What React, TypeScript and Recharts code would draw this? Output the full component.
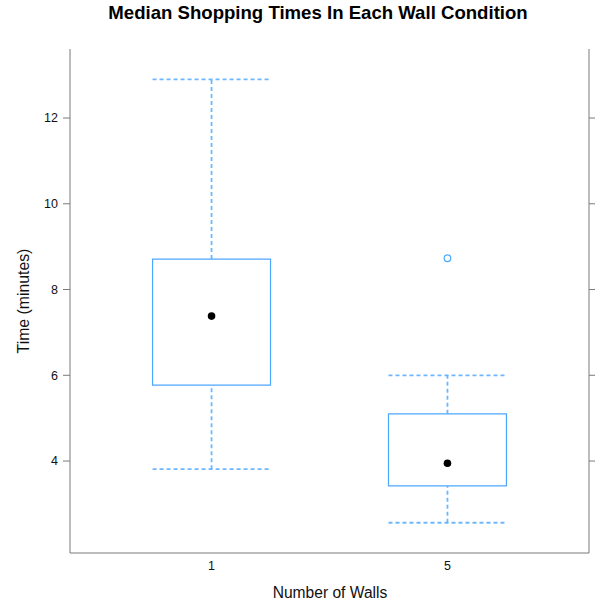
import React from 'react';
import {
  ComposedChart,
  XAxis,
  YAxis,
  Scatter,
  ReferenceArea,
  ReferenceLine,
} from 'recharts';

// ---- data ----
const categories = ['1', '5'];
const positions = [1, 2];
const whiskerLow = [3.81, 2.56];
const q1 = [5.77, 3.42];
const median = [7.38, 3.95];
const q3 = [8.71, 5.1];
const whiskerHigh = [12.9, 6.0];
const outlierGroups = [2];
const outlierValues = [8.73];
const yTicks = [4, 6, 8, 10, 12];

// ---- styling ----
const BLUE = '#4da6ff';
const DASH_BLUE = '#55aaff';
const FRAME = '#7a7a7a';
const HALF = 0.25;
const X_DOMAIN: [number, number] = [0.4, 2.6];
const Y_DOMAIN: [number, number] = [1.855, 13.61];
const FONT = '"Liberation Sans", Arial, Helvetica, sans-serif';

const medianData = positions.map((p, i) => ({ x: p, y: median[i] }));
const outlierData = outlierGroups.map((g, i) => ({ x: g, y: outlierValues[i] }));

const MedianDot = (props: any) => (
  <circle cx={props.cx} cy={props.cy} r={3.8} fill="#000" />
);
const OutlierDot = (props: any) => (
  <circle cx={props.cx} cy={props.cy} r={3.3} fill="none" stroke={BLUE} strokeWidth={1.2} />
);

const YLabel = () => (
  <text
    x={23}
    y={301}
    transform="rotate(-90 23 301)"
    textAnchor="middle"
    dominantBaseline="central"
    fontSize={15.8}
    fill="#111"
    style={{ fontFamily: FONT }}
  >
    Time (minutes)
  </text>
);

const XLabel = () => (
  <text
    x={330}
    y={592}
    textAnchor="middle"
    dominantBaseline="central"
    fontSize={15.6}
    fill="#111"
    style={{ fontFamily: FONT }}
  >
    Number of Walls
  </text>
);

export default function App() {
  const dashProps = {
    stroke: DASH_BLUE,
    strokeDasharray: '4 3',
    strokeWidth: 1.8,
    strokeOpacity: 0.85,
  };
  return (
    <div
      style={{
        position: 'absolute',
        left: 0,
        top: 0,
        width: 595,
        height: 603,
        background: '#fff',
        fontFamily: FONT,
      }}
    >
      <div
        style={{
          position: 'absolute',
          left: 0,
          top: 3,
          width: 636,
          height: 20,
          lineHeight: '20px',
          textAlign: 'center',
          fontWeight: 'bold',
          fontSize: 18.6,
          color: '#000',
        }}
      >
        Median Shopping Times In Each Wall Condition
      </div>
      <ComposedChart
        width={595}
        height={603}
        margin={{ top: 49, right: 0, bottom: 0, left: 0 }}
      >
        <XAxis
          dataKey="x"
          type="number"
          domain={X_DOMAIN}
          allowDataOverflow
          ticks={positions}
          tickFormatter={(v: number) => categories[positions.indexOf(v)] ?? ''}
          height={50}
          tickLine={false}
          tickSize={5}
          tickMargin={3}
          axisLine={{ stroke: FRAME }}
          tick={{ fontSize: 12.5, fill: '#111' }}
          label={<XLabel />}
        />
        <XAxis
          xAxisId="top"
          orientation="top"
          type="number"
          domain={X_DOMAIN}
          allowDataOverflow
          height={0}
          tick={false}
          tickLine={false}
          axisLine={{ stroke: FRAME }}
        />
        <YAxis
          dataKey="y"
          type="number"
          domain={Y_DOMAIN}
          allowDataOverflow
          ticks={yTicks}
          width={70}
          tickSize={7}
          tickMargin={5}
          tickLine={{ stroke: FRAME }}
          axisLine={{ stroke: FRAME }}
          tick={{ fontSize: 12.5, fill: '#111' }}
          label={<YLabel />}
        />
        <YAxis
          yAxisId="right"
          orientation="right"
          type="number"
          domain={Y_DOMAIN}
          allowDataOverflow
          ticks={yTicks}
          width={6}
          tickSize={6}
          tickFormatter={() => ''}
          tickLine={{ stroke: FRAME }}
          axisLine={{ stroke: FRAME }}
        />

        {positions.map((p, i) => (
          <ReferenceLine
            key={'wl' + i}
            segment={[
              { x: p, y: whiskerLow[i] },
              { x: p, y: q1[i] },
            ]}
            {...dashProps}
          />
        ))}
        {positions.map((p, i) => (
          <ReferenceLine
            key={'wh' + i}
            segment={[
              { x: p, y: q3[i] },
              { x: p, y: whiskerHigh[i] },
            ]}
            {...dashProps}
          />
        ))}
        {positions.map((p, i) => (
          <ReferenceLine
            key={'cl' + i}
            segment={[
              { x: p - HALF, y: whiskerLow[i] },
              { x: p + HALF, y: whiskerLow[i] },
            ]}
            {...dashProps}
          />
        ))}
        {positions.map((p, i) => (
          <ReferenceLine
            key={'ch' + i}
            segment={[
              { x: p - HALF, y: whiskerHigh[i] },
              { x: p + HALF, y: whiskerHigh[i] },
            ]}
            {...dashProps}
          />
        ))}
        {positions.map((p, i) => (
          <ReferenceArea
            key={'box' + i}
            x1={p - HALF}
            x2={p + HALF}
            y1={q1[i]}
            y2={q3[i]}
            fill="none"
            stroke={BLUE}
            strokeWidth={1.2}
          />
        ))}

        <Scatter
          data={medianData}
          dataKey="y"
          shape={MedianDot}
          isAnimationActive={false}
        />
        <Scatter
          data={outlierData}
          dataKey="y"
          shape={OutlierDot}
          isAnimationActive={false}
        />
      </ComposedChart>
    </div>
  );
}
